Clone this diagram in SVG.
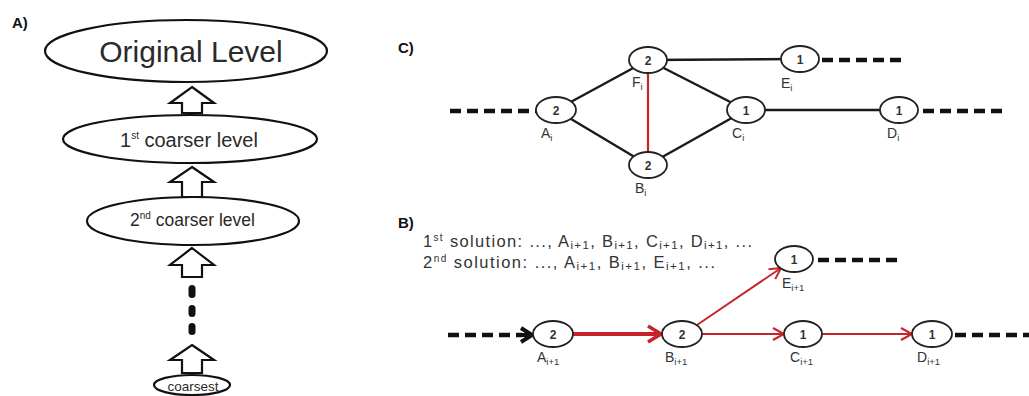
<svg xmlns="http://www.w3.org/2000/svg" width="1029" height="396" viewBox="0 0 1029 396">
<style>
text{font-family:"Liberation Sans",Arial,sans-serif;fill:#2a2a2a}
.panel{font-weight:bold;font-size:15px;fill:#111}
.ell{fill:#fff;stroke:#111;stroke-width:2.2}
.blk{fill:#fff;stroke:#111;stroke-width:2.2;stroke-linejoin:miter}
.node{fill:#fff;stroke:#222;stroke-width:1.8}
.num{font-size:12px;font-weight:bold;text-anchor:middle;fill:#333}
.lbl{font-size:14px;fill:#333}
.sub{font-size:9.5px}
.sup{font-size:10px}
.ssub{font-size:11.5px}
.edge{stroke:#1a1a1a;stroke-width:2.4;fill:none}
.red{stroke:#c8232c;fill:none}
.dash{stroke:#111;stroke-width:4.5;stroke-dasharray:11 6;fill:none}
.sol{font-size:16.5px;fill:#333}
</style>
<defs>
<marker id="redhead" markerUnits="userSpaceOnUse" markerWidth="16" markerHeight="16" refX="13" refY="8" orient="auto">
<path d="M2,2 L13,8 L2,14" fill="none" stroke="#c8232c" stroke-width="2"/>
</marker>
<marker id="redheadBig" markerUnits="userSpaceOnUse" markerWidth="20" markerHeight="20" refX="16" refY="10" orient="auto">
<path d="M3,2 L16,10 L3,18" fill="none" stroke="#c8232c" stroke-width="3.5"/>
</marker>
<marker id="blkhead" markerUnits="userSpaceOnUse" markerWidth="20" markerHeight="20" refX="15" refY="10" orient="auto">
<path d="M4,3 L15,10 L4,17" fill="none" stroke="#111" stroke-width="4"/>
</marker>
</defs>

<!-- Panel A -->
<text class="panel" x="12" y="28">A)</text>
<g id="original-level">
<ellipse class="ell" cx="186" cy="51" rx="141" ry="31"/>
<text x="191" y="62" font-size="30" text-anchor="middle">Original Level</text>
</g>
<g id="coarser-1">
<ellipse class="ell" cx="190" cy="139" rx="127" ry="24"/>
<text x="120" y="147" font-size="20">1<tspan class="sup" dy="-8">st</tspan><tspan dy="8"> coarser level</tspan></text>
</g>
<g id="coarser-2">
<ellipse class="ell" cx="193" cy="221" rx="106" ry="24"/>
<text x="130" y="226" font-size="17.5">2<tspan class="sup" dy="-7">nd</tspan><tspan dy="7"> coarser level</tspan></text>
</g>
<g id="coarsest">
<ellipse class="ell" cx="192" cy="385" rx="38" ry="10"/>
<text x="193" y="391" font-size="13.5" text-anchor="middle">coarsest</text>
</g>
<g id="level-arrows">
<path class="blk" d="M192,87 L214,103 L202,103 L202,113 L182,113 L182,103 L170,103 Z"/>
<path class="blk" d="M192,167 L214,182 L202,182 L202,197 L182,197 L182,182 L170,182 Z"/>
<path class="blk" d="M192,248 L214,265 L202,265 L202,277 L182,277 L182,265 L170,265 Z"/>
<path class="blk" d="M192,345 L214,360 L202,360 L202,373 L182,373 L182,360 L170,360 Z"/>
<rect x="188.5" y="285" width="7" height="13" rx="3.5" fill="#111"/>
<rect x="188.5" y="305" width="7" height="12" rx="3.5" fill="#111"/>
<rect x="188.5" y="323" width="7" height="12" rx="3.5" fill="#111"/>
</g>

<!-- Panel C -->
<text class="panel" x="398" y="53">C)</text>
<g id="connectors-c">
<line class="dash" x1="450" y1="111" x2="536" y2="111"/>
<line class="edge" x1="556" y1="110" x2="648" y2="60"/>
<line class="edge" x1="556" y1="110" x2="648" y2="165"/>
<line class="edge" x1="648" y1="60" x2="746" y2="110"/>
<line class="edge" x1="648" y1="165" x2="746" y2="110"/>
<line class="edge" x1="648" y1="60" x2="800" y2="59"/>
<line class="edge" x1="746" y1="110" x2="899" y2="110"/>
<line class="red" stroke-width="2.2" x1="648" y1="72" x2="648" y2="152"/>
<line class="dash" x1="822" y1="60" x2="902" y2="60"/>
<line class="dash" x1="923" y1="111" x2="1005" y2="111"/>
</g>
<g id="c-A">
<ellipse class="node" cx="556" cy="110" rx="20" ry="13"/>
<text class="num" x="556" y="115">2</text>
<text class="lbl" x="541" y="138">A<tspan class="sub" dy="3">i</tspan></text>
</g>
<g id="c-F">
<ellipse class="node" cx="648" cy="60" rx="19" ry="13"/>
<text class="num" x="648" y="65">2</text>
<text class="lbl" x="632" y="87">F<tspan class="sub" dy="3">i</tspan></text>
</g>
<g id="c-B">
<ellipse class="node" cx="648" cy="165" rx="19" ry="13"/>
<text class="num" x="648" y="170">2</text>
<text class="lbl" x="635" y="193">B<tspan class="sub" dy="3">i</tspan></text>
</g>
<g id="c-C">
<ellipse class="node" cx="746" cy="110" rx="19" ry="13"/>
<text class="num" x="746" y="115">1</text>
<text class="lbl" x="732" y="138">C<tspan class="sub" dy="3">i</tspan></text>
</g>
<g id="c-E">
<ellipse class="node" cx="800" cy="59" rx="19" ry="13"/>
<text class="num" x="800" y="64">1</text>
<text class="lbl" x="781" y="88">E<tspan class="sub" dy="3">i</tspan></text>
</g>
<g id="c-D">
<ellipse class="node" cx="899" cy="110" rx="19" ry="13"/>
<text class="num" x="899" y="115">1</text>
<text class="lbl" x="887" y="138">D<tspan class="sub" dy="3">i</tspan></text>
</g>

<!-- Panel B -->
<text class="panel" x="398" y="228">B)</text>
<g id="solutions">
<text class="sol" x="423" y="247" textLength="329" lengthAdjust="spacing">1<tspan class="sup" dy="-6">st</tspan><tspan dy="6"> solution: ..., A</tspan><tspan class="ssub" dy="2">i+1</tspan><tspan dy="-2">, B</tspan><tspan class="ssub" dy="2">i+1</tspan><tspan dy="-2">, C</tspan><tspan class="ssub" dy="2">i+1</tspan><tspan dy="-2">, D</tspan><tspan class="ssub" dy="2">i+1</tspan><tspan dy="-2">, ...</tspan></text>
<text class="sol" x="423" y="268" textLength="292" lengthAdjust="spacing">2<tspan class="sup" dy="-6">nd</tspan><tspan dy="6"> solution: ..., A</tspan><tspan class="ssub" dy="2">i+1</tspan><tspan dy="-2">, B</tspan><tspan class="ssub" dy="2">i+1</tspan><tspan dy="-2">, E</tspan><tspan class="ssub" dy="2">i+1</tspan><tspan dy="-2">, ...</tspan></text>
</g>
<g id="connectors-b">
<line class="dash" x1="448" y1="335" x2="522" y2="335"/>
<line stroke="#111" stroke-width="4" x1="520" y1="335" x2="532" y2="335" marker-end="url(#blkhead)"/>
<line class="red" stroke-width="4" x1="573" y1="334" x2="661" y2="334" marker-end="url(#redheadBig)"/>
<line class="red" stroke-width="2" x1="697" y1="325" x2="781" y2="268" marker-end="url(#redhead)"/>
<line class="red" stroke-width="2" x1="702" y1="334" x2="784" y2="334" marker-end="url(#redhead)"/>
<line class="red" stroke-width="2" x1="822" y1="334" x2="912" y2="334" marker-end="url(#redhead)"/>
<line class="dash" x1="818" y1="260" x2="898" y2="260"/>
<line class="dash" x1="955" y1="335" x2="1029" y2="335"/>
</g>
<g id="b-A">
<ellipse class="node" cx="553" cy="334" rx="20" ry="13"/>
<text class="num" x="553" y="339">2</text>
<text class="lbl" x="537" y="362">A<tspan class="sub" dy="3">i+1</tspan></text>
</g>
<g id="b-B">
<ellipse class="node" cx="682" cy="334" rx="20" ry="13"/>
<text class="num" x="682" y="339">2</text>
<text class="lbl" x="665" y="362">B<tspan class="sub" dy="3">i+1</tspan></text>
</g>
<g id="b-E">
<ellipse class="node" cx="794" cy="259" rx="19" ry="13"/>
<text class="num" x="794" y="264">1</text>
<text class="lbl" x="782" y="288">E<tspan class="sub" dy="3">i+1</tspan></text>
</g>
<g id="b-C">
<ellipse class="node" cx="803" cy="334" rx="19" ry="13"/>
<text class="num" x="803" y="339">1</text>
<text class="lbl" x="790" y="362">C<tspan class="sub" dy="3">i+1</tspan></text>
</g>
<g id="b-D">
<ellipse class="node" cx="932" cy="334" rx="20" ry="13"/>
<text class="num" x="932" y="339">1</text>
<text class="lbl" x="917" y="362">D<tspan class="sub" dy="3">i+1</tspan></text>
</g>
</svg>
